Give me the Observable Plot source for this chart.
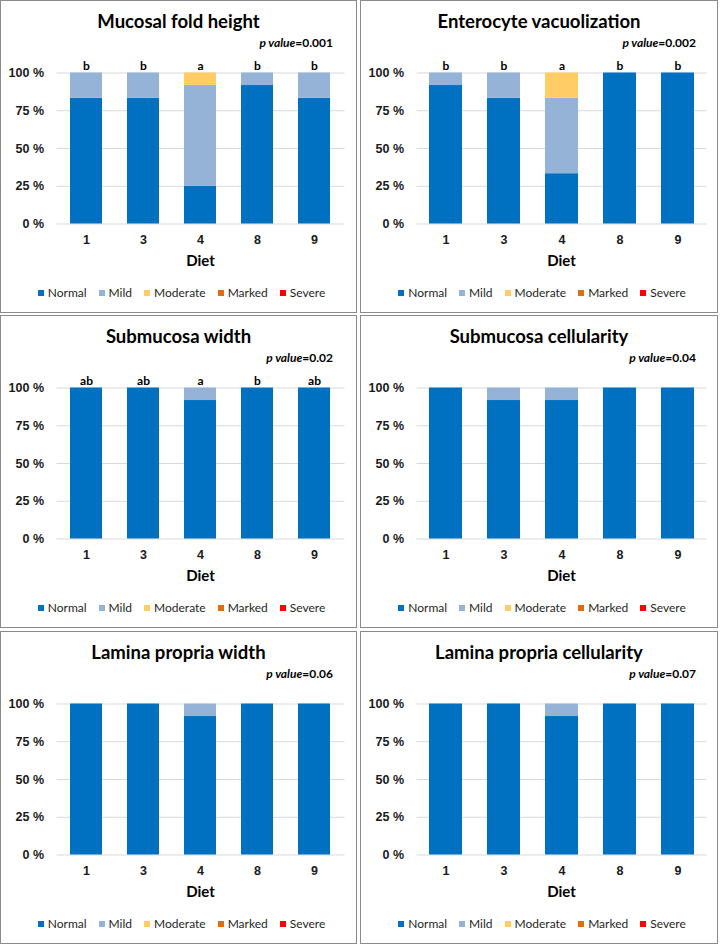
<!DOCTYPE html>
<html>
<head>
<meta charset="utf-8">
<script src="https://cdn.jsdelivr.net/npm/d3@7"></script>
<script src="https://cdn.jsdelivr.net/npm/@observablehq/plot@0.6"></script>
<style>
  html, body { margin: 0; padding: 0; background: #fff; }
  #root { position: relative; width: 720px; height: 947px; overflow: hidden; }
  .panel { position: absolute; box-sizing: border-box; border: 1.5px solid #8a8a8a; background: #fff; }
  .panel svg { position: absolute; left: 0; top: 0; }
  .title { position: absolute; left: 0; width: 100%; top: 8px; line-height: 24px; text-align: center;
           font-family: Lato, "Open Sans", sans-serif; font-weight: 700; font-size: 18.5px; color: #000; }
  .pval { position: absolute; right: 23px; top: 35px; line-height: 14px; font-family: Lato, sans-serif;
          font-weight: 700; font-size: 12px; color: #000; }
  .pval i { font-style: italic; }
  .xlabel { position: absolute; top: 250px; line-height: 18px; text-align: center;
            font-family: Lato, sans-serif; font-weight: 700; font-size: 15px; color: #000; }
  .legend { position: absolute; left: 0; width: 100%; box-sizing: border-box; padding-left: 6px; top: 285px; line-height: 14px;
            display: flex; justify-content: center; gap: 12px; font-family: Lato, sans-serif; font-size: 12px; color: #1f1f1f; }
  .legend span.item { display: inline-flex; align-items: center; }
  .legend span.sw { display: inline-block; width: 6px; height: 6px; margin-right: 4px; }
</style>
</head>
<body>
<div id="root"></div>
<script>
// ---- data ----
const diets = ["1", "3", "4", "8", "9"];
const grades = ["Normal", "Mild", "Moderate", "Marked", "Severe"];
const gradeColors = ["#0070C0", "#95B3D7", "#FFCC66", "#E26B0A", "#FF0000"];
const yTicks = [0, 25, 50, 75, 100];

// percent of fish per grade [Normal, Mild, Moderate, Marked, Severe], one row per diet
const mucosalFoldHeight = [[83.3, 16.7, 0, 0, 0], [83.3, 16.7, 0, 0, 0], [25, 66.7, 8.3, 0, 0], [91.7, 8.3, 0, 0, 0], [83.3, 16.7, 0, 0, 0]];
const mucosalFoldLetters = ["b", "b", "a", "b", "b"];
const enterocyteVacuolization = [[91.7, 8.3, 0, 0, 0], [83.3, 16.7, 0, 0, 0], [33.3, 50, 16.7, 0, 0], [100, 0, 0, 0, 0], [100, 0, 0, 0, 0]];
const enterocyteLetters = ["b", "b", "a", "b", "b"];
const submucosaWidth = [[100, 0, 0, 0, 0], [100, 0, 0, 0, 0], [91.7, 8.3, 0, 0, 0], [100, 0, 0, 0, 0], [100, 0, 0, 0, 0]];
const submucosaWidthLetters = ["ab", "ab", "a", "b", "ab"];
const submucosaCellularity = [[100, 0, 0, 0, 0], [91.7, 8.3, 0, 0, 0], [91.7, 8.3, 0, 0, 0], [100, 0, 0, 0, 0], [100, 0, 0, 0, 0]];
const laminaPropriaWidth = [[100, 0, 0, 0, 0], [100, 0, 0, 0, 0], [91.7, 8.3, 0, 0, 0], [100, 0, 0, 0, 0], [100, 0, 0, 0, 0]];
const laminaPropriaCellularity = [[100, 0, 0, 0, 0], [100, 0, 0, 0, 0], [91.7, 8.3, 0, 0, 0], [100, 0, 0, 0, 0], [100, 0, 0, 0, 0]];

const titles = ["Mucosal fold height", "Enterocyte vacuolization", "Submucosa width", "Submucosa cellularity", "Lamina propria width", "Lamina propria cellularity"];
const pValues = ["0.001", "0.002", "0.02", "0.04", "0.06", "0.07"];
const panelData = [mucosalFoldHeight, enterocyteVacuolization, submucosaWidth, submucosaCellularity, laminaPropriaWidth, laminaPropriaCellularity];
const panelLetters = [mucosalFoldLetters, enterocyteLetters, submucosaWidthLetters, null, null, null];

// ---- layout ----
const colLeft = [0, 360];
const colWidth = [357, 358];
const rowTop = [0, 315, 631];
const panelH = 313;

const root = document.getElementById("root");

panelData.forEach((values, i) => {
  const col = i % 2, row = Math.floor(i / 2);
  const W = colWidth[col], H = panelH;
  const panel = document.createElement("div");
  panel.className = "panel";
  panel.style.left = colLeft[col] + "px";
  panel.style.top = rowTop[row] + "px";
  panel.style.width = W + "px";
  panel.style.height = H + "px";
  root.appendChild(panel);

  const innerW = W - 3, innerH = H - 3;
  const mL = 55.5, mR = innerW - (col === 0 ? 343.5 : 345.5), mT = 71.5, mB = innerH - 222.5;

  const rows = [];
  values.forEach((arr, di) => arr.forEach((v, gi) => rows.push({diet: diets[di], grade: grades[gi], value: v})));
  const letters = panelLetters[i];
  const letterRows = letters ? letters.map((l, di) => ({diet: diets[di], label: l, top: 100})) : [];

  const svg = Plot.plot({
    width: innerW, height: innerH,
    marginLeft: mL, marginRight: mR, marginTop: mT, marginBottom: mB,
    style: {fontFamily: '"Liberation Sans", Arial, sans-serif', fontSize: "12.5px", fontWeight: "bold", color: "#1a1a1a", background: "transparent"},
    x: {domain: diets, paddingInner: 0.43, paddingOuter: 0.215, label: null, tickSize: 0, tickPadding: 11},
    y: {domain: [0, 100], ticks: yTicks, tickFormat: d => d + " %", label: null, tickSize: 0, tickPadding: 13},
    color: {domain: grades, range: gradeColors},
    marks: [
      Plot.gridY(yTicks, {stroke: "#d9d9d9", strokeOpacity: 1, strokeWidth: 1}),
      Plot.barY(rows, {x: "diet", y: "value", fill: "grade"}),
      Plot.text(letterRows, {x: "diet", y: "top", text: "label", dy: -7, fill: "#000",
        fontFamily: "Lato, sans-serif", fontWeight: "bold", fontSize: 12})
    ]
  });
  panel.appendChild(svg);

  const t = document.createElement("div");
  t.className = "title"; t.textContent = titles[i];
  panel.appendChild(t);

  const p = document.createElement("div");
  p.className = "pval"; p.style.right = (col === 0 ? 23 : 21) + "px";
  p.innerHTML = "<i>p value</i>=" + pValues[i];
  panel.appendChild(p);

  const xl = document.createElement("div");
  xl.className = "xlabel"; xl.textContent = "Diet";
  xl.style.left = mL + "px"; xl.style.width = (innerW - mL - mR) + "px";
  panel.appendChild(xl);

  const lg = document.createElement("div");
  lg.className = "legend";
  grades.forEach((g, gi) => {
    const it = document.createElement("span"); it.className = "item";
    const sw = document.createElement("span"); sw.className = "sw"; sw.style.background = gradeColors[gi];
    it.appendChild(sw); it.appendChild(document.createTextNode(g));
    lg.appendChild(it);
  });
  panel.appendChild(lg);
});
</script>
</body>
</html>
